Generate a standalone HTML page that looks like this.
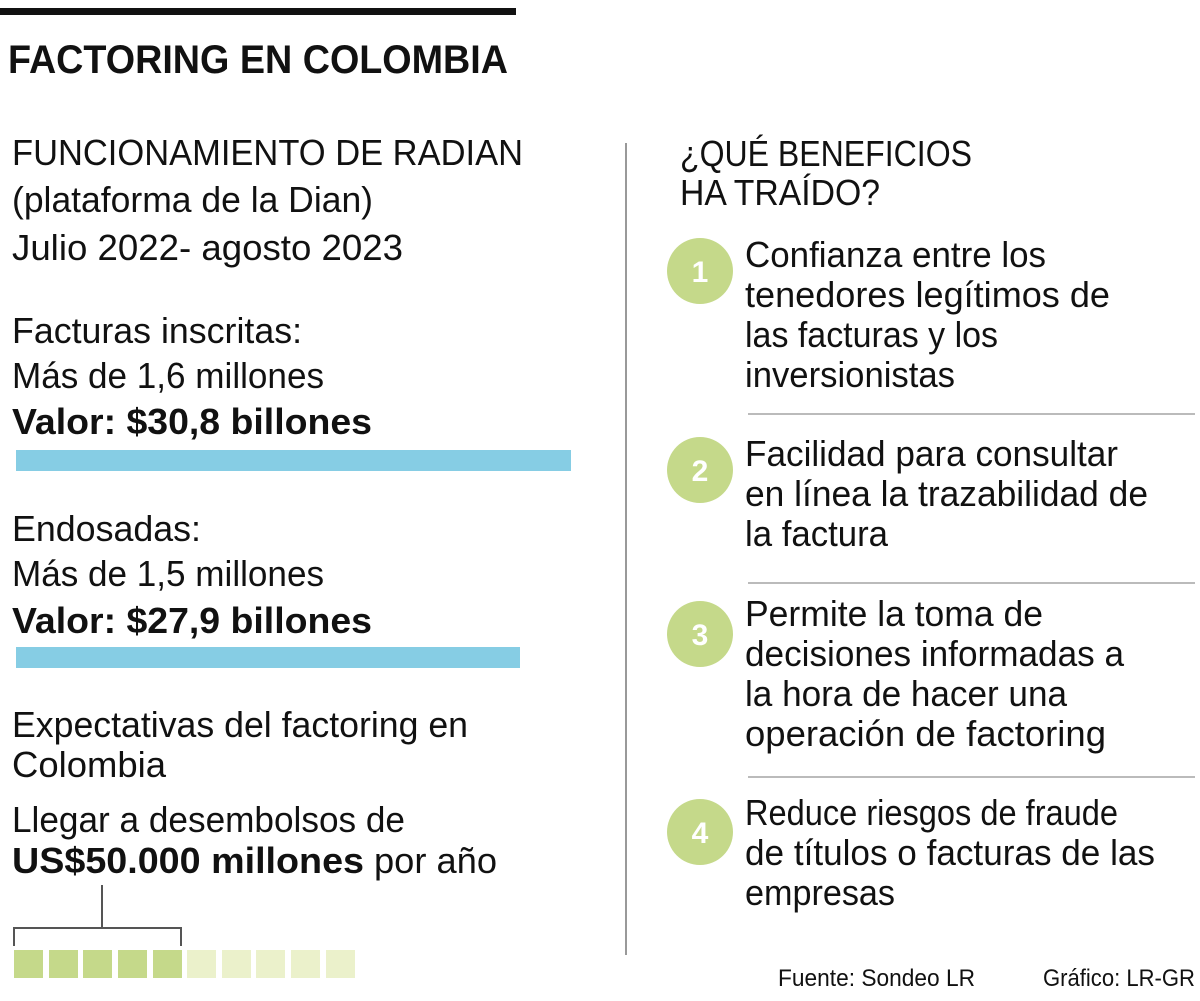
<!DOCTYPE html>
<html><head><meta charset="utf-8"><style>
html,body{margin:0;padding:0;background:#fff;}
svg{display:block;}
text{font-family:"Liberation Sans",sans-serif;fill:#111;}
.b{font-weight:bold;}
.r{font-size:36px;}
</style></head><body>
<svg width="1200" height="1001" viewBox="0 0 1200 1001" xmlns="http://www.w3.org/2000/svg">
<rect x="0" y="8" width="516" height="7" fill="#111"/>
<text x="8" y="73" class="b" font-size="40" textLength="500" lengthAdjust="spacingAndGlyphs">FACTORING EN COLOMBIA</text>

<g font-size="36" lengthAdjust="spacingAndGlyphs">
<text x="12" y="165" textLength="511" lengthAdjust="spacingAndGlyphs">FUNCIONAMIENTO DE RADIAN</text>
<text x="12" y="212" textLength="361" lengthAdjust="spacingAndGlyphs">(plataforma de la Dian)</text>
<text x="12" y="260" textLength="391" lengthAdjust="spacingAndGlyphs">Julio 2022- agosto 2023</text>
<text x="12" y="343" textLength="290" lengthAdjust="spacingAndGlyphs">Facturas inscritas:</text>
<text x="12" y="388" textLength="312" lengthAdjust="spacingAndGlyphs" fill="#222">Más de 1,6 millones</text>
<text x="12" y="434" class="b" textLength="360" lengthAdjust="spacingAndGlyphs">Valor: $30,8 billones</text>
<text x="12" y="541" textLength="189" lengthAdjust="spacingAndGlyphs">Endosadas:</text>
<text x="12" y="586" textLength="312" lengthAdjust="spacingAndGlyphs">Más de 1,5 millones</text>
<text x="12" y="633" class="b" textLength="360" lengthAdjust="spacingAndGlyphs">Valor: $27,9 billones</text>
<text x="12" y="737" textLength="456" lengthAdjust="spacingAndGlyphs">Expectativas del factoring en</text>
<text x="12" y="777" textLength="154" lengthAdjust="spacingAndGlyphs">Colombia</text>
<text x="12" y="832" textLength="393" lengthAdjust="spacingAndGlyphs">Llegar a desembolsos de</text>
<text x="12" y="873" class="b" textLength="352" lengthAdjust="spacingAndGlyphs">US$50.000 millones</text>
<text x="374" y="873" textLength="123" lengthAdjust="spacingAndGlyphs">por año</text>
</g>
<rect x="16" y="450" width="555" height="21" fill="#86cde4"/>
<rect x="16" y="647" width="504" height="21" fill="#86cde4"/>

<path d="M102 885 V928 M14 946 V928 H181 V946" stroke="#555" stroke-width="2" fill="none"/>
<g fill="#c5d98a">
<rect x="14" y="950" width="29" height="28"/><rect x="49" y="950" width="29" height="28"/><rect x="83" y="950" width="29" height="28"/><rect x="118" y="950" width="29" height="28"/><rect x="153" y="950" width="29" height="28"/>
</g>
<g fill="#ebf1cb">
<rect x="187" y="950" width="29" height="28"/><rect x="222" y="950" width="29" height="28"/><rect x="256" y="950" width="29" height="28"/><rect x="291" y="950" width="29" height="28"/><rect x="326" y="950" width="29" height="28"/>
</g>

<line x1="626" y1="143" x2="626" y2="955" stroke="#999" stroke-width="2"/>

<text x="680" y="166" font-size="36" textLength="292" lengthAdjust="spacingAndGlyphs">¿QUÉ BENEFICIOS</text>
<text x="680" y="205" font-size="36" textLength="200" lengthAdjust="spacingAndGlyphs">HA TRAÍDO?</text>

<g fill="#c5d98a">
<circle cx="700" cy="271" r="33"/><circle cx="700" cy="470" r="33"/><circle cx="700" cy="634" r="33"/><circle cx="700" cy="832" r="33"/>
</g>
<g font-size="30" class="b" text-anchor="middle">
<text x="700" y="282" style="fill:#fff">1</text>
<text x="700" y="481" style="fill:#fff">2</text>
<text x="700" y="645" style="fill:#fff">3</text>
<text x="700" y="843" style="fill:#fff">4</text>
</g>

<g font-size="36">
<text x="745" y="267" textLength="301" lengthAdjust="spacingAndGlyphs">Confianza entre los</text>
<text x="745" y="307" textLength="365" lengthAdjust="spacingAndGlyphs">tenedores legítimos de</text>
<text x="745" y="347" textLength="253" lengthAdjust="spacingAndGlyphs">las facturas y los</text>
<text x="745" y="387" textLength="210" lengthAdjust="spacingAndGlyphs">inversionistas</text>
<text x="745" y="466" textLength="373" lengthAdjust="spacingAndGlyphs">Facilidad para consultar</text>
<text x="745" y="506" textLength="403" lengthAdjust="spacingAndGlyphs">en línea la trazabilidad de</text>
<text x="745" y="546" textLength="143" lengthAdjust="spacingAndGlyphs">la factura</text>
<text x="745" y="626" textLength="298" lengthAdjust="spacingAndGlyphs">Permite la toma de</text>
<text x="745" y="666" textLength="379" lengthAdjust="spacingAndGlyphs">decisiones informadas a</text>
<text x="745" y="706" textLength="322" lengthAdjust="spacingAndGlyphs">la hora de hacer una</text>
<text x="745" y="746" textLength="361" lengthAdjust="spacingAndGlyphs">operación de factoring</text>
<text x="745" y="825" textLength="373" lengthAdjust="spacingAndGlyphs">Reduce riesgos de fraude</text>
<text x="745" y="865" textLength="410" lengthAdjust="spacingAndGlyphs">de títulos o facturas de las</text>
<text x="745" y="905" textLength="150" lengthAdjust="spacingAndGlyphs">empresas</text>
</g>
<g stroke="#bbb" stroke-width="2">
<line x1="748" y1="414" x2="1195" y2="414"/>
<line x1="748" y1="583" x2="1195" y2="583"/>
<line x1="748" y1="777" x2="1195" y2="777"/>
</g>

<text x="778" y="986" font-size="24" textLength="197" lengthAdjust="spacingAndGlyphs">Fuente: Sondeo LR</text>
<text x="1043" y="986" font-size="24" textLength="152" lengthAdjust="spacingAndGlyphs">Gráfico: LR-GR</text>
</svg>
</body></html>
